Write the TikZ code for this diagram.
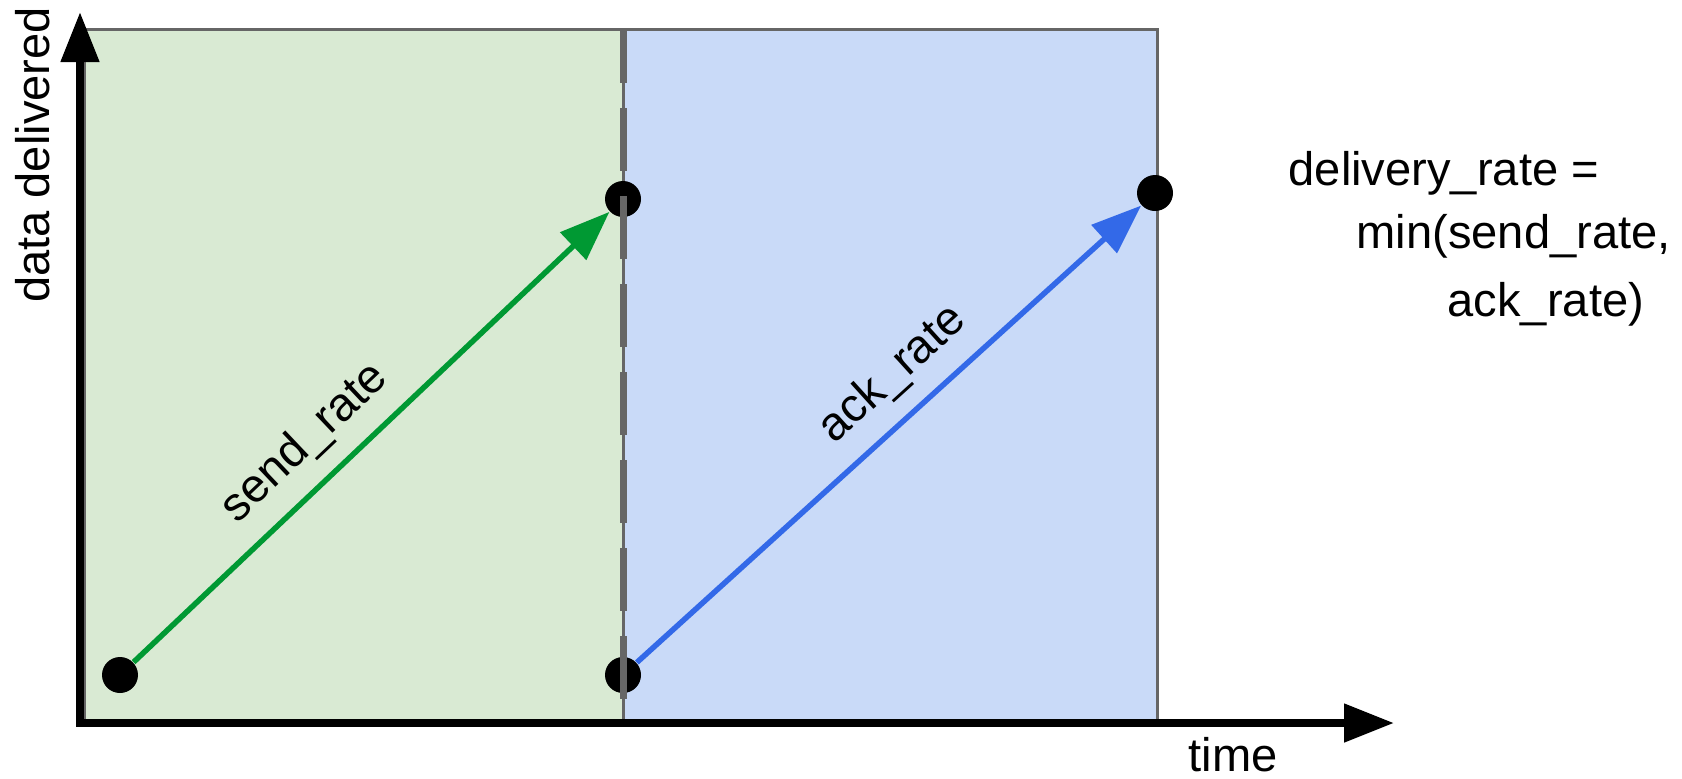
\documentclass[tikz,border=0pt]{standalone}
\usepackage{fontspec}
\setmainfont{Liberation Sans}
\usepackage{tikz}
\usetikzlibrary{positioning,arrows.meta}
\definecolor{verdeclaro}{HTML}{D9EAD3}
\definecolor{azulclaro}{HTML}{C9DAF8}
\definecolor{borda}{HTML}{666666}
\definecolor{verde}{HTML}{009933}
\definecolor{azul}{HTML}{3369E8}

\begin{document}
\begin{tikzpicture}[
      every node/.style={font=\fontsize{13.4}{18.8}\selectfont},
      D/.style={circle,fill=black,inner sep=0pt,minimum size=3.6mm},
      frm/.style={inner sep=0pt,anchor=base west},
      lbl/.style={sloped,above=0.5mm,text=black},
      eixo/.style={line width=0.8mm},
      seta/.style={->,line width=0.55mm},
      >={Triangle[length=5mm,width=3.7mm]},
    ]
  \useasboundingbox (0,0) rectangle (16.82,7.78);
  \fill[verdeclaro] (0.84,0.55) rectangle (6.23,7.49);
  \fill[azulclaro] (6.23,0.55) rectangle (11.57,7.49);
  \draw[borda,line width=0.3mm] (0.84,0.55) -- (0.84,7.49) -- (11.57,7.49) -- (11.57,0.55);
  \draw[borda,line width=0.3mm] (6.23,7.49) -- (6.23,0.55);

  \node[D] (d1) at (1.20,1.03) {};
  \node[D, on grid, right=5.03cm of d1] (d2) {};
  \node[D, on grid, above=4.76cm of d2] (d3) {};
  \node[D, on grid, above right=0.06cm and 5.32cm of d3] (d4) {};

  % fronteira entre as duas fases
  \draw[borda,line width=0.7mm,dash pattern=on 6.3mm off 2.5mm,dash phase=0.9mm] (6.23,7.49) -- (6.23,0.55);

  \coordinate (ytip) at (0.80,7.66);
  \coordinate (xtip) at (13.94,0.55);
  \draw[eixo,<->] (ytip) |- (xtip);
  \node[rotate=90] (ylbl) at (0.33,6.23) {data delivered};
  \node (xlbl) at (12.33,0.23) {time};

  \draw[seta,verde] (d1) -- (d3) node[lbl,pos=0.42]{send\_rate};
  \draw[seta,azul] (d2) -- (d4) node[lbl,pos=0.563]{ack\_rate};

  \node[frm] (f1) at (12.88,5.93) {delivery\_rate =};
  \node[frm, below right=6.3mm and 6.8mm of f1.base west, anchor=base west] (f2) {min(send\_rate,};
  \node[frm, below right=6.8mm and 9.1mm of f2.base west, anchor=base west] (f3) {ack\_rate)};
\end{tikzpicture}
\end{document}
